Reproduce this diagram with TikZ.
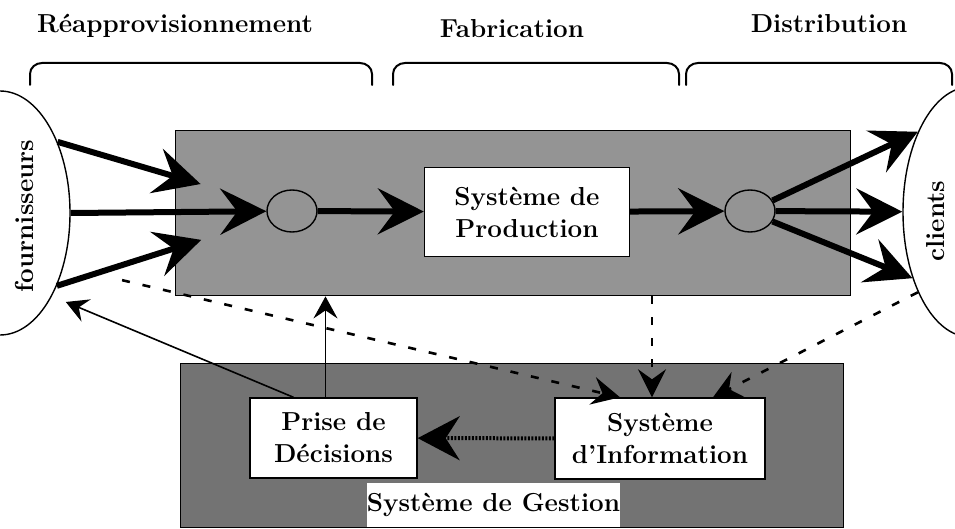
\documentclass[tikz,border=0pt]{standalone}
\usepackage{tikz}
\usetikzlibrary{arrows.meta,shapes.geometric,positioning}

\begin{document}
\begin{tikzpicture}[x=1pt,y=-1pt]
\tikzstyle{titre}=[font=\fontsize{26}{32}\selectfont\bfseries, inner sep=2pt]
\tikzstyle{fond}=[draw, line width=1.4pt, anchor=north west, inner sep=0pt]
\tikzstyle{boite}=[draw, fill=white, line width=1.4pt, align=center, titre]
\tikzstyle{flux}=[line width=6pt, -{Stealth[length=46pt,width=46pt,inset=17pt]}]
\tikzstyle{fleche}=[line width=1.6pt, -{Stealth[length=22pt,width=24pt,inset=8pt]}]
\tikzstyle{pointille}=[line width=2.6pt, dash pattern=on 8pt off 13pt, -{Stealth[length=28pt,width=28pt,inset=10pt]}]
\tikzstyle{accolade}=[line width=2pt, line cap=round]
\useasboundingbox (0,0) rectangle (955,529);
\clip (0,0) rectangle (955,529);
% fonds
\node[fond, fill=black!42, minimum width=675pt, minimum height=165pt] (prodbg) at (175,130) {};
\node[fond, fill=black!55, minimum width=663pt, minimum height=164pt] (gestion) at (180,363) {};
% acteurs
\node[ellipse, draw, line width=1.4pt, minimum width=140pt, minimum height=244pt] (fourn) at (0,213) {};
\node[titre, rotate=90] (fournlbl) at (24,216) {fournisseurs};
\node[ellipse, draw, line width=1.4pt, minimum width=134pt, minimum height=250pt] (clients) at (970,212) {};
\node[titre, rotate=90] (clientslbl) at (936,221) {clients};
% phases
\node[titre, anchor=base] (reappro) at (175,33) {Réapprovisionnement};
\node[titre, anchor=base] (fabric) at (512,38) {Fabrication};
\node[titre, anchor=base] (distrib) at (829,33) {Distribution};
\draw[accolade] (30,85) -- (30,74) to[out=90,in=180] (42,63) -- (360,63) to[out=0,in=90] (372,74) -- (372,85);
\draw[accolade] (393,85) -- (393,74) to[out=90,in=180] (405,63) -- (667,63) to[out=0,in=90] (679,74) -- (679,85);
\draw[accolade] (686,85) -- (686,74) to[out=90,in=180] (698,63) -- (940,63) to[out=0,in=90] (952,74) -- (952,85);
% production
\node[ellipse, draw, line width=1.4pt, minimum width=50pt, minimum height=42pt] (cin) at (292,211) {};
\node[ellipse, draw, line width=1.4pt, minimum width=50pt, minimum height=42pt] (cout) at (750,211) {};
\node[boite, minimum width=205pt, minimum height=89pt] (prod) at (527,212) {Système de\\Production};
\draw[flux, shorten >=70pt] (fourn.51) -- (cin);
\draw[flux] (fourn.east) -- (cin);
\draw[flux, shorten >=70pt] (fourn.-52) -- (cin);
\draw[flux] (cin) -- (prod);
\draw[flux] (prod) -- (cout);
\draw[flux] (cout.25) -- (clients.123);
\draw[flux] (cout) -- (clients);
\draw[flux] (cout.-25) -- (clients.-131);
% gestion
\node[boite, minimum width=167pt, minimum height=80pt] (decision) at (333.5,438) {Prise de\\Décisions};
\node[boite, minimum width=210pt, minimum height=81pt] (info) at (660,438.5) {Système\\d'Information};
\node[titre, fill=white, minimum width=253pt, minimum height=44pt, inner sep=0pt] (gestionlbl) at (493.5,505) {Système de Gestion};
\draw[line width=4pt, dash pattern=on 2pt off 1.5pt, -{Stealth[length=42pt,width=44pt,inset=14pt]}] (info) -- (decision);
\draw[fleche] ([xshift=-8pt]decision.north) -- ([xshift=-8pt]decision.north |- prodbg.south);
\draw[fleche, shorten >=15pt] ([xshift=-40pt]decision.north) -- (fourn.-58);
\draw[pointille, shorten <=60pt] (fourn.-40) -- ([xshift=-40pt]info.north);
\draw[pointille] ([xshift=-8pt]info.north |- prodbg.south) -- ([xshift=-8pt]info.north);
\draw[pointille] (clients.-123) -- ([xshift=53pt]info.north);
\end{tikzpicture}
\end{document}
